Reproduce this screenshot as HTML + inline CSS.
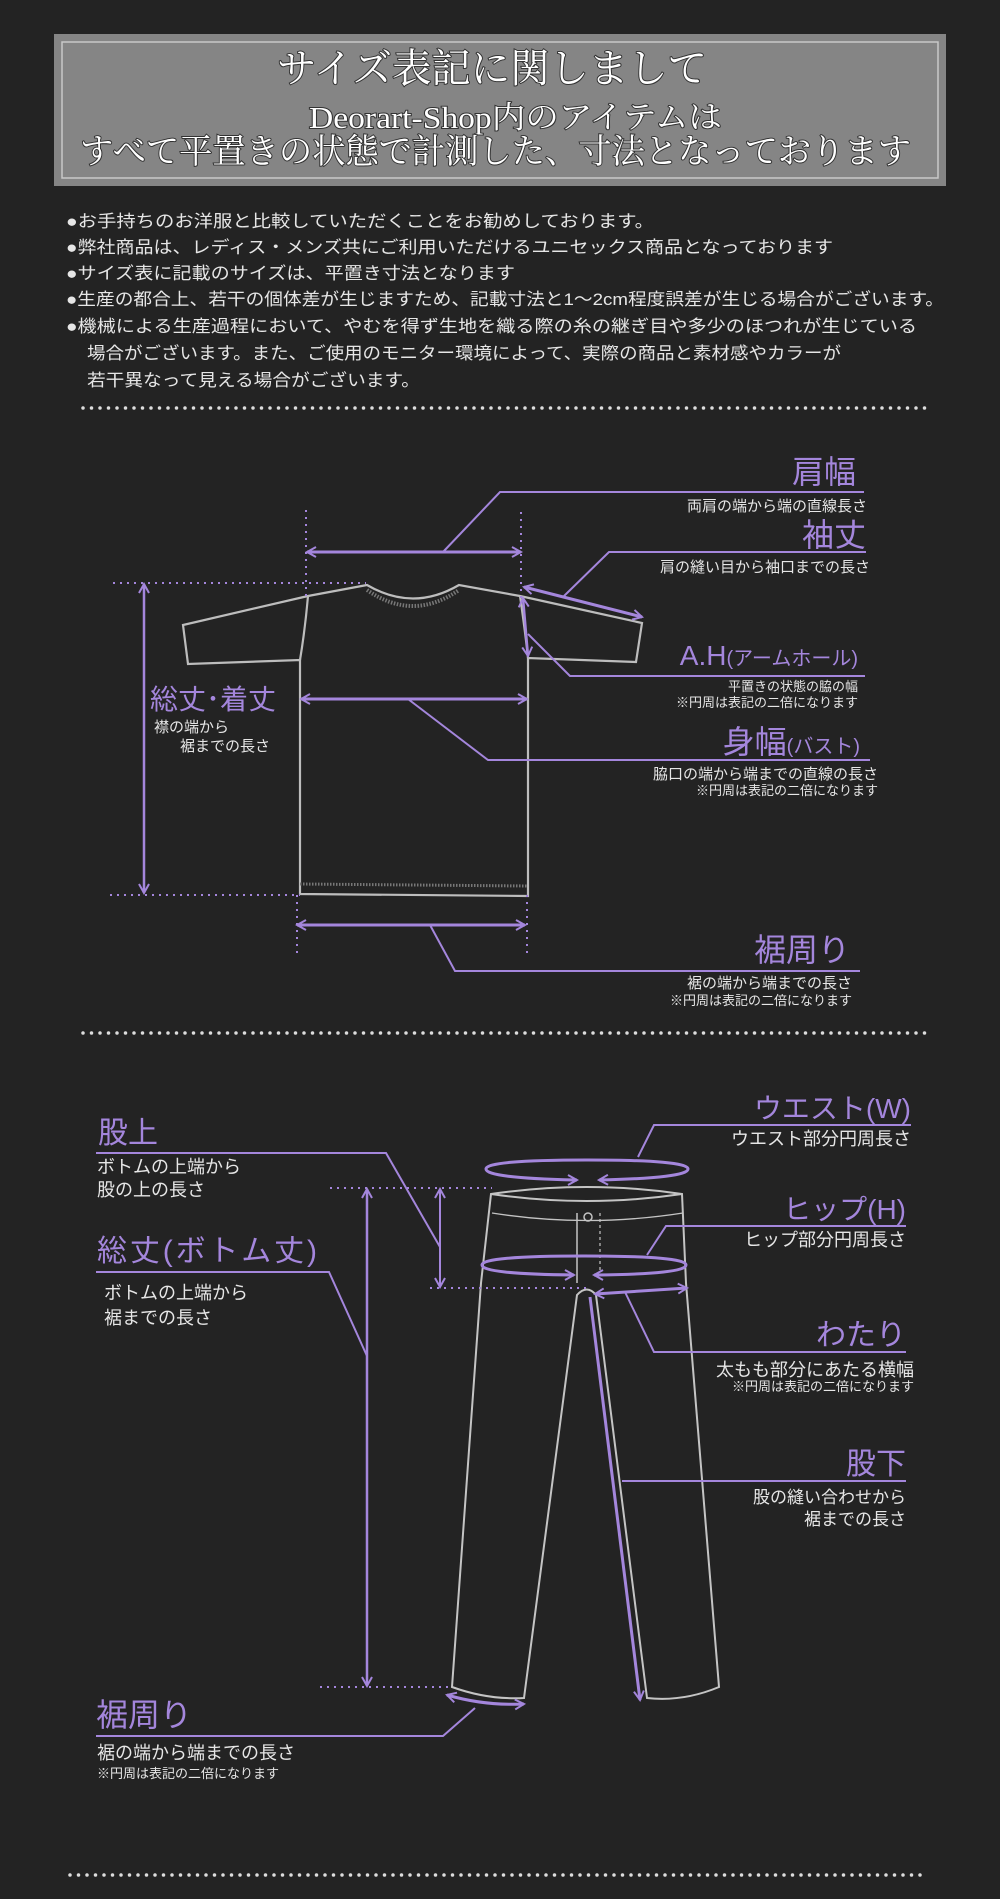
<!DOCTYPE html>
<html><head><meta charset="utf-8"><style>
html,body{margin:0;padding:0;background:#232323;}
svg{display:block}
text{font-family:"Liberation Sans","Noto Sans CJK JP",sans-serif;}
.p{fill:#a486dc}
.w{fill:#e6e6e6}
.ser{font-family:"Liberation Serif","Noto Serif CJK SC",serif;fill:#fff}
</style></head><body>
<svg width="1000" height="1899" viewBox="0 0 1000 1899" xmlns="http://www.w3.org/2000/svg">
<defs>
<marker id="a" markerWidth="12" markerHeight="12" refX="10" refY="6" orient="auto-start-reverse" markerUnits="userSpaceOnUse"><path d="M1,1 L10,6 L1,11" fill="none" stroke="#a486dc" stroke-width="2"/></marker>
</defs>
<rect width="1000" height="1899" fill="#232323"/>
<!-- header -->
<rect x="54" y="34" width="892" height="152" fill="#858585"/>
<rect x="62" y="42" width="876" height="136" fill="none" stroke="#c8c8c8" stroke-width="1.5"/>
<g style="paint-order:stroke" stroke="#333" stroke-width="2">
<text class="ser" x="277" y="82" font-size="40" textLength="430" lengthAdjust="spacingAndGlyphs">サイズ表記に関しまして</text>
<text class="ser" x="309" y="128" font-size="31" textLength="413" lengthAdjust="spacingAndGlyphs">Deorart-Shop内のアイテムは</text>
<text class="ser" x="80" y="163" font-size="34" textLength="831" lengthAdjust="spacingAndGlyphs">すべて平置きの状態で計測した、寸法となっております</text>
</g>
<g class="w" font-size="17">
<text x="66" y="227" textLength="588" lengthAdjust="spacingAndGlyphs">●お手持ちのお洋服と比較していただくことをお勧めしております。</text>
<text x="66" y="253" textLength="767" lengthAdjust="spacingAndGlyphs">●弊社商品は、レディス・メンズ共にご利用いただけるユニセックス商品となっております</text>
<text x="66" y="279" textLength="449" lengthAdjust="spacingAndGlyphs">●サイズ表に記載のサイズは、平置き寸法となります</text>
<text x="66" y="305" textLength="878" lengthAdjust="spacingAndGlyphs">●生産の都合上、若干の個体差が生じますため、記載寸法と1～2cm程度誤差が生じる場合がございます。</text>
<text x="66" y="332" textLength="851" lengthAdjust="spacingAndGlyphs">●機械による生産過程において、やむを得ず生地を織る際の糸の継ぎ目や多少のほつれが生じている</text>
<text x="87" y="359" textLength="754" lengthAdjust="spacingAndGlyphs">場合がございます。また、ご使用のモニター環境によって、実際の商品と素材感やカラーが</text>
<text x="87" y="386" textLength="333" lengthAdjust="spacingAndGlyphs">若干異なって見える場合がございます。</text>
</g>
<line x1="83" y1="408" x2="933" y2="408" stroke="#ddd" stroke-width="3.5" stroke-linecap="round" stroke-dasharray="0 8.5"/>
<line x1="83" y1="1033" x2="925" y2="1033" stroke="#ddd" stroke-width="3.5" stroke-linecap="round" stroke-dasharray="0 8.5"/>
<line x1="70" y1="1875" x2="922" y2="1875" stroke="#ddd" stroke-width="3.5" stroke-linecap="round" stroke-dasharray="0 8.5"/>

<!-- T-shirt -->
<g fill="none" stroke="#bdbdbd" stroke-width="2.2">
<path d="M367,585 L308,596 L183,625 L188,664 L300,660 L300,894 L528,896 L528,658 L636,662 L642,623 L520,596 L459,585 Q413,612 367,585 Z"/>
<path d="M367,590 Q413,622 459,590" stroke="#777" stroke-width="4" stroke-dasharray="1.5 1.5"/>
<path d="M308,596 Q305,630 300,660 M520,596 Q525,630 528,658"/>
<line x1="300" y1="884" x2="528" y2="886" stroke="#777" stroke-width="3" stroke-dasharray="1.5 1.5"/>
</g>
<g stroke="#a486dc" stroke-width="2" fill="none">
<line x1="306" y1="510" x2="306" y2="596" stroke-dasharray="2 5"/>
<line x1="521" y1="512" x2="521" y2="600" stroke-dasharray="2 5"/>
<line x1="113" y1="583" x2="366" y2="583" stroke-dasharray="2 5"/>
<line x1="110" y1="895" x2="300" y2="895" stroke-dasharray="2 5"/>
<line x1="297" y1="895" x2="297" y2="955" stroke-dasharray="2 5"/>
<line x1="527" y1="895" x2="527" y2="953" stroke-dasharray="2 5"/>
<line x1="307" y1="552" x2="521" y2="552" stroke-width="3" marker-start="url(#a)" marker-end="url(#a)"/>
<line x1="524" y1="587" x2="642" y2="617" stroke-width="3" marker-start="url(#a)" marker-end="url(#a)"/>
<line x1="523" y1="598" x2="528" y2="656" stroke-width="2.5" marker-start="url(#a)" marker-end="url(#a)"/>
<line x1="301" y1="699" x2="527" y2="699" stroke-width="3" marker-start="url(#a)" marker-end="url(#a)"/>
<line x1="144" y1="584" x2="144" y2="893" stroke-width="2.5" marker-start="url(#a)" marker-end="url(#a)"/>
<line x1="297" y1="925" x2="525" y2="925" stroke-width="3" marker-start="url(#a)" marker-end="url(#a)"/>
<polyline points="864,492 500,492 443,552"/>
<polyline points="866,552 609,552 564,596"/>
<polyline points="865,676 570,676 528,634"/>
<polyline points="870,760 488,760 408,699"/>
<polyline points="860,971 455,971 430,925"/>
</g>
<g class="p">
<text x="856" y="483" text-anchor="end" font-size="32">肩幅</text>
<text x="866" y="546" text-anchor="end" font-size="32">袖丈</text>
<text x="858" y="665" text-anchor="end" font-size="28">A.H<tspan font-size="20">(アームホール)</tspan></text>
<text x="150" y="709" font-size="28">総丈･着丈</text>
<text x="860" y="753" text-anchor="end" font-size="32">身幅<tspan font-size="20">(バスト)</tspan></text>
<text x="850" y="961" text-anchor="end" font-size="32">裾周り</text>
</g>
<g class="w" font-size="15">
<text x="867" y="511" text-anchor="end">両肩の端から端の直線長さ</text>
<text x="870" y="572" text-anchor="end">肩の縫い目から袖口までの長さ</text>
<text x="858" y="691" text-anchor="end" font-size="13">平置きの状態の脇の幅</text>
<text x="858" y="707" text-anchor="end" font-size="13">※円周は表記の二倍になります</text>
<text x="154" y="732">襟の端から</text>
<text x="180" y="751">裾までの長さ</text>
<text x="878" y="779" text-anchor="end">脇口の端から端までの直線の長さ</text>
<text x="878" y="795" text-anchor="end" font-size="13">※円周は表記の二倍になります</text>
<text x="852" y="988" text-anchor="end">裾の端から端までの長さ</text>
<text x="852" y="1005" text-anchor="end" font-size="13">※円周は表記の二倍になります</text>
</g>

<!-- Pants -->
<g fill="none" stroke="#c4c4c4" stroke-width="2">
<path d="M491,1194 Q587,1180 682,1194 L686,1283 L719,1687 Q683,1702 647,1698 L596,1295 Q587,1284 577,1295 L524,1698 Q488,1700 452,1687 L481,1283 Z"/>
<path d="M491,1194 Q587,1208 682,1194" />
<path d="M492,1213 Q587,1228 683,1213" stroke-width="1.3"/>
<line x1="577" y1="1213" x2="577" y2="1283" stroke-width="1.5"/>
<line x1="600" y1="1213" x2="600" y2="1270" stroke-width="1.2" stroke-dasharray="3 3"/>
<circle cx="588" cy="1217" r="4" stroke-width="1.5"/>
</g>
<g stroke="#a486dc" stroke-width="2" fill="none">
<path d="M575,1180 Q486,1178 486,1169 Q486,1160 587,1160 Q688,1160 688,1169 Q688,1178 599,1180" stroke-width="3" marker-end="url(#a)"/>
<path d="M575,1180 L577,1180" marker-end="url(#a)" stroke-width="3"/>
<path d="M574,1275 Q482,1274 482,1265 Q482,1256 584,1256 Q686,1256 686,1265 Q686,1274 596,1275" stroke-width="3"/>
<line x1="594" y1="1275" x2="596" y2="1275" stroke-width="3" marker-start="url(#a)"/>
<line x1="570" y1="1275" x2="574" y2="1275" stroke-width="3" marker-end="url(#a)"/>
<line x1="595" y1="1294" x2="687" y2="1288" stroke-width="3" marker-start="url(#a)" marker-end="url(#a)"/>
<line x1="590" y1="1297" x2="640" y2="1700" stroke-width="3" marker-end="url(#a)"/>
<line x1="440" y1="1189" x2="440" y2="1287" marker-start="url(#a)" marker-end="url(#a)"/>
<line x1="367" y1="1189" x2="367" y2="1686" stroke-width="2.5" marker-start="url(#a)" marker-end="url(#a)"/>
<line x1="330" y1="1188" x2="492" y2="1188" stroke-dasharray="2 5"/>
<line x1="430" y1="1288" x2="590" y2="1288" stroke-dasharray="2 5"/>
<line x1="320" y1="1687" x2="452" y2="1687" stroke-dasharray="2 5"/>
<path d="M447,1695 Q485,1706 524,1704" stroke-width="3" marker-start="url(#a)" marker-end="url(#a)"/>
<polyline points="911,1125 654,1125 638,1157"/>
<polyline points="96,1153 386,1153 440,1247"/>
<polyline points="96,1272 329,1272 367,1356"/>
<polyline points="906,1226 666,1226 647,1255"/>
<polyline points="906,1352 654,1352 625,1292"/>
<polyline points="906,1481 622,1481"/>
<polyline points="96,1736 443,1736 475,1708"/>
</g>
<g class="p">
<text x="911" y="1118" text-anchor="end" font-size="28">ウエスト(W)</text>
<text x="98" y="1143" font-size="30">股上</text>
<text x="97" y="1261" font-size="30" textLength="220" lengthAdjust="spacing">総丈(ボトム丈)</text>
<text x="906" y="1219" text-anchor="end" font-size="28">ヒップ(H)</text>
<text x="906" y="1345" text-anchor="end" font-size="30">わたり</text>
<text x="906" y="1474" text-anchor="end" font-size="30">股下</text>
<text x="96" y="1726" font-size="32">裾周り</text>
</g>
<g class="w" font-size="18">
<text x="911" y="1145" text-anchor="end">ウエスト部分円周長さ</text>
<text x="97" y="1173">ボトムの上端から</text>
<text x="97" y="1196">股の上の長さ</text>
<text x="104" y="1299">ボトムの上端から</text>
<text x="104" y="1324">裾までの長さ</text>
<text x="906" y="1246" text-anchor="end">ヒップ部分円周長さ</text>
<text x="914" y="1376" text-anchor="end">太もも部分にあたる横幅</text>
<text x="914" y="1391" text-anchor="end" font-size="13">※円周は表記の二倍になります</text>
<text x="906" y="1503" text-anchor="end" font-size="17">股の縫い合わせから</text>
<text x="906" y="1525" text-anchor="end" font-size="17">裾までの長さ</text>
<text x="97" y="1759">裾の端から端までの長さ</text>
<text x="97" y="1778" font-size="13">※円周は表記の二倍になります</text>
</g>
</svg>
</body></html>
